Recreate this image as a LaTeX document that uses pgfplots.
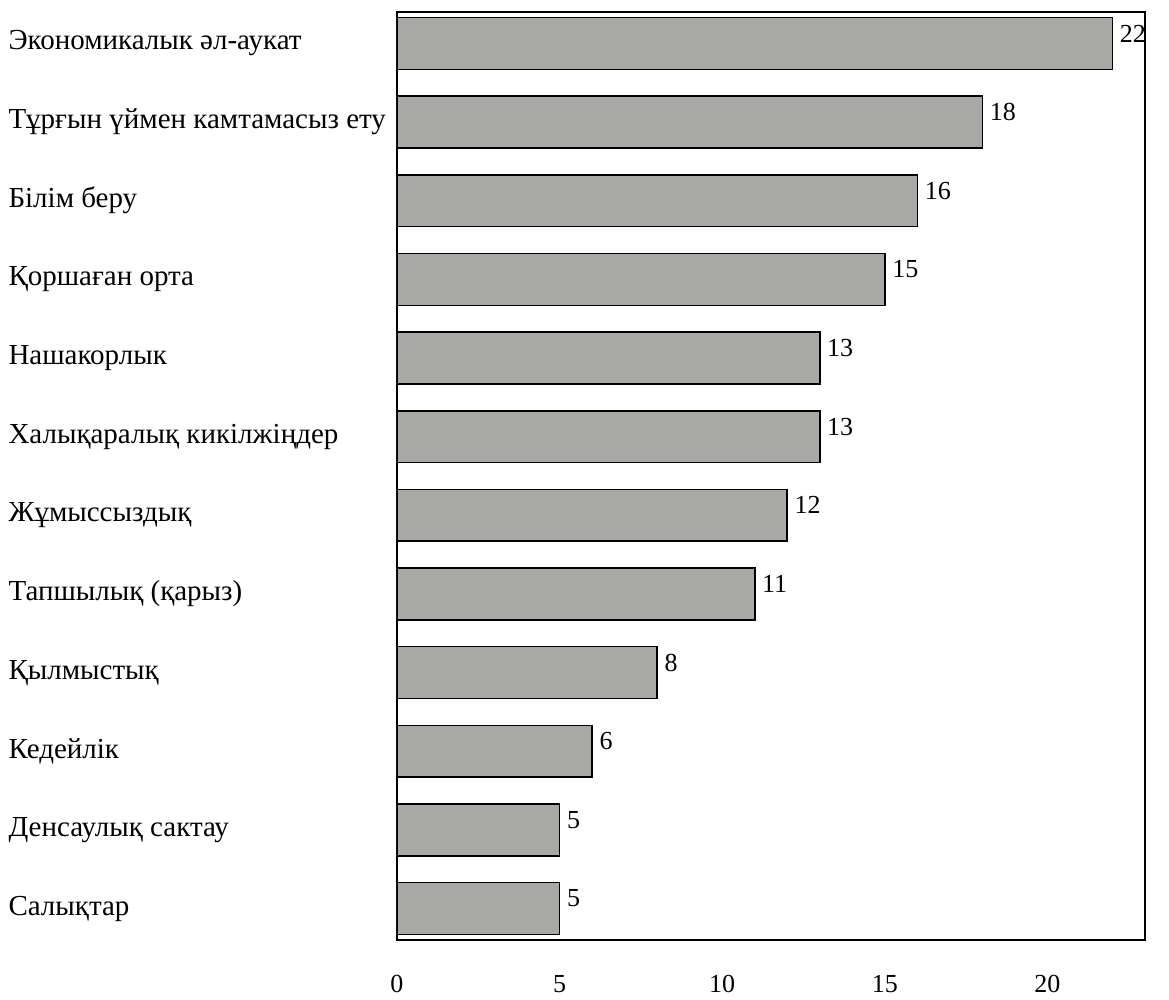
\documentclass[border=0pt]{standalone}
\usepackage{fontspec}
\setmainfont{Liberation Serif}
\usepackage{pgfplots}
\pgfplotsset{compat=1.18}
\definecolor{barfill}{RGB}{168,168,164}
\begin{document}
\begin{tikzpicture}
\begin{axis}[
  scale only axis, width=374pt, height=464pt,
  xbar, bar width=0.66,
  xmin=0, xmax=23, ymin=-0.4, ymax=11.4, y dir=reverse,
  ytick={0,...,11},
  yticklabels={
    Экономикалык әл-аукат,
    Тұрғын үймен камтамасыз ету,
    Білім беру,
    Қоршаған орта,
    Нашакорлык,
    Халықаралық кикілжіңдер,
    Жұмыссыздық,
    Тапшылық (қарыз),
    Қылмыстық,
    Кедейлік,
    Денсаулық сактау,
    Салықтар},
  xtick={0,5,10,15,20},
  tick style={draw=none},
  axis line style={line width=1pt},
  yticklabel style={font=\fontsize{14.5}{17}\selectfont, anchor=west, xshift=-193.5pt},
  xticklabel style={font=\fontsize{13}{15}\selectfont, yshift=-14pt},
  /pgf/number format/assume math mode=true,
  nodes near coords,
  nodes near coords style={font=\fontsize{13}{15}\selectfont, anchor=west, yshift=5pt, xshift=0pt},
]
\addplot[draw=black, fill=barfill, line width=0.8pt] coordinates {
  (22,0) (18,1) (16,2) (15,3) (13,4) (13,5)
  (12,6) (11,7) (8,8) (6,9) (5,10) (5,11)};
\end{axis}
\path (current axis.south west) ++(-198.5pt,-28.5pt)
      (current axis.north east) ++(12pt,6pt);
\end{tikzpicture}
\end{document}
